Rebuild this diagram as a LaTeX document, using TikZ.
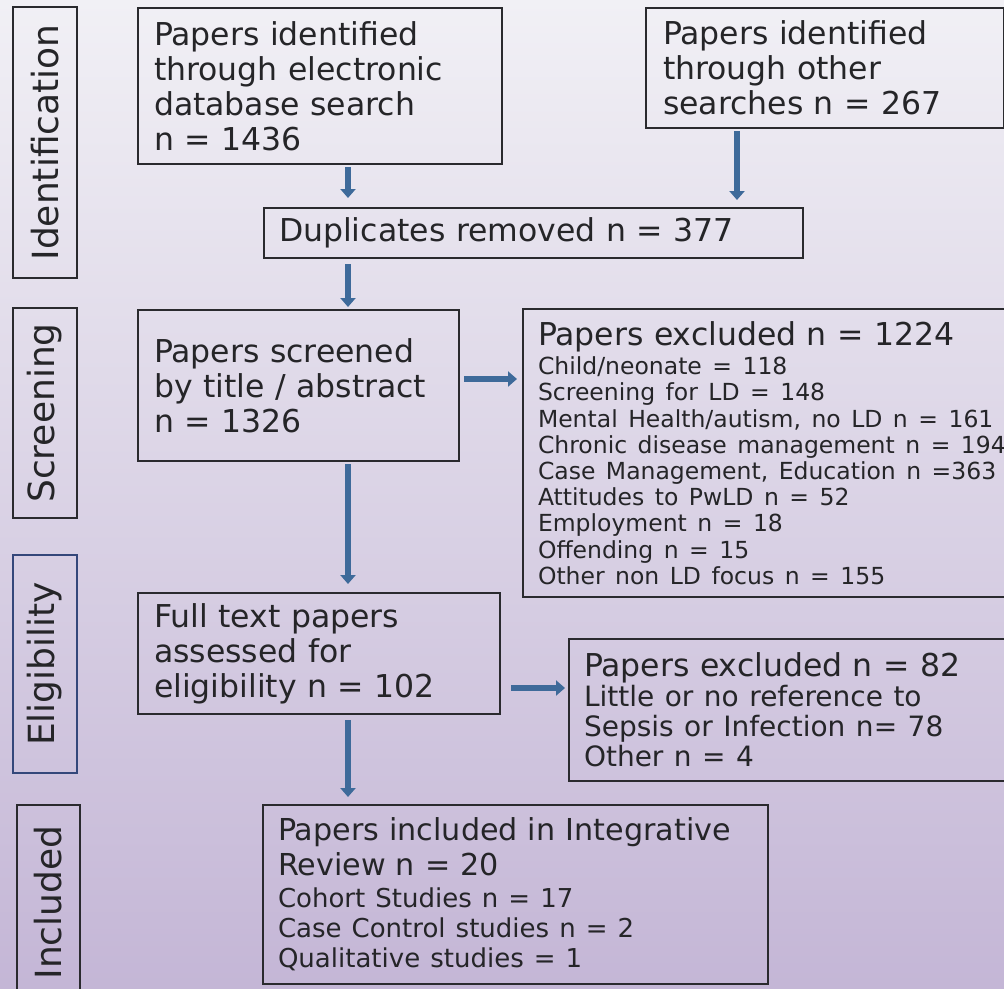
\documentclass[tikz,border=0pt]{standalone}
\usepackage{fontspec}
\setmainfont{DejaVu Sans}
\usetikzlibrary{arrows.meta}
\definecolor{bgtop}{HTML}{F1F0F5}
\definecolor{bgbot}{HTML}{C4B6D6}
\definecolor{boxc}{HTML}{2A2A2E}
\definecolor{eligc}{HTML}{34477A}
\definecolor{arrc}{HTML}{3E6A9A}
\definecolor{txtc}{HTML}{252528}
\newcommand\fbig{\fontsize{31.5}{35}\selectfont}
\newcommand\fbigB{\fontsize{30.2}{35}\selectfont}
\newcommand\fsmall{\fontsize{23.5}{26.2}\selectfont}
\newcommand\fmidA{\fontsize{28}{30}\selectfont}
\newcommand\fmidB{\fontsize{26}{30}\selectfont}
\newcommand\fside{\fontsize{36}{40}\selectfont}
\begin{document}
\begin{tikzpicture}[x=1pt,y=-1pt,
  box/.style={draw=boxc, line width=2pt, anchor=north west, align=left,
    text=txtc, inner ysep=0pt, font=\fbig},
  side/.style={draw=boxc, line width=2pt, rotate=90, anchor=center,
    text=txtc, inner sep=0pt, font=\fside},
  arr/.style={draw=arrc, line width=6pt, -{Triangle[width=15pt,length=9pt]}}]
\useasboundingbox (0,0) rectangle (1004,988);
\clip (0,0) rectangle (1004,988);
\shade[top color=bgtop, bottom color=bgbot] (0,0) rectangle (1004,988);

% stage labels
\node[side, minimum width=271, minimum height=64] (sid) at (45,142.5) {Identification};
\node[side, minimum width=210, minimum height=64] (sscr) at (45,413) {Screening};
\node[side, draw=eligc, minimum width=218, minimum height=64] (selig) at (45,664) {Eligibility};
\node[side, minimum width=195, minimum height=63] (sinc) at (48.5,902.5) {Included};

% boxes
\node[box, minimum width=364, minimum height=156, inner xsep=16pt, text width=332pt] (b1) at (137,7)
  {Papers identified\\through electronic\\database search\\n = 1436\par};
\node[box, minimum width=358, minimum height=120, inner xsep=17pt, text width=324pt] (b2) at (645,7)
  {Papers identified\\through other\\searches n = 267\par};
\node[box, minimum width=539, minimum height=50, inner xsep=15pt, text width=509pt] (dup) at (263,207)
  {Duplicates removed n = 377\par};
\node[box, minimum width=321, minimum height=151, inner xsep=16pt, text width=289pt] (scr) at (137,309)
  {Papers screened\\by title / abstract\\n = 1326\par};
\node[box, minimum width=550, minimum height=288, inner xsep=15pt, text width=520pt] (exc1) at (522,308)
  {Papers excluded n = 1224\par\vspace{3pt}\fsmall
   Child/neonate = 118\\
   Screening for LD = 148\\
   Mental Health/autism, no LD n = 161\\
   Chronic disease management n = 194\\
   Case Management, Education n =363\\
   Attitudes to PwLD n = 52\\
   Employment n = 18\\
   Offending n = 15\\
   Other non LD focus n = 155\par};
\node[box, minimum width=362, minimum height=121, inner xsep=16pt, text width=330pt] (full) at (137,592)
  {Full text papers\\assessed for\\eligibility n = 102\par};
\node[box, minimum width=450, minimum height=142, inner xsep=15pt, text width=420pt] (exc2) at (568,638)
  {Papers excluded n = 82\par\fmidA
   Little or no reference to\\
   Sepsis or Infection n= 78\\
   Other n = 4\par};
\node[box, font=\fbigB, minimum width=505, minimum height=179, inner xsep=15pt, text width=475pt] (inc) at (262,804)
  {Papers included in Integrative\\Review n = 20\par\vspace{2pt}\fmidB
   Cohort Studies n = 17\\
   Case Control studies n = 2\\
   Qualitative studies = 1\par};

% guide coordinates
\coordinate (ax) at (348,0);
\coordinate (bx) at (737,0);
\coordinate (ay) at (0,379);
\coordinate (by) at (0,688);

% connectors
\draw[arr] ([yshift=-2pt]b1.south -| ax) -- ([yshift=9pt]dup.north -| ax);
\draw[arr] ([yshift=-2pt]b2.south -| bx) -- ([yshift=7pt]dup.north -| bx);
\draw[arr] ([yshift=-5pt]dup.south -| ax) -- ([yshift=2pt]scr.north -| ax);
\draw[arr] ([xshift=4pt]scr.east |- ay) -- ([xshift=-5pt]exc1.west |- ay);
\draw[arr] ([yshift=-2pt]scr.south -| ax) -- ([yshift=8pt]full.north -| ax);
\draw[arr] ([xshift=10pt]full.east |- by) -- ([xshift=-3pt]exc2.west |- by);
\draw[arr] ([yshift=-5pt]full.south -| ax) -- ([yshift=7pt]inc.north -| ax);
\end{tikzpicture}
\end{document}
